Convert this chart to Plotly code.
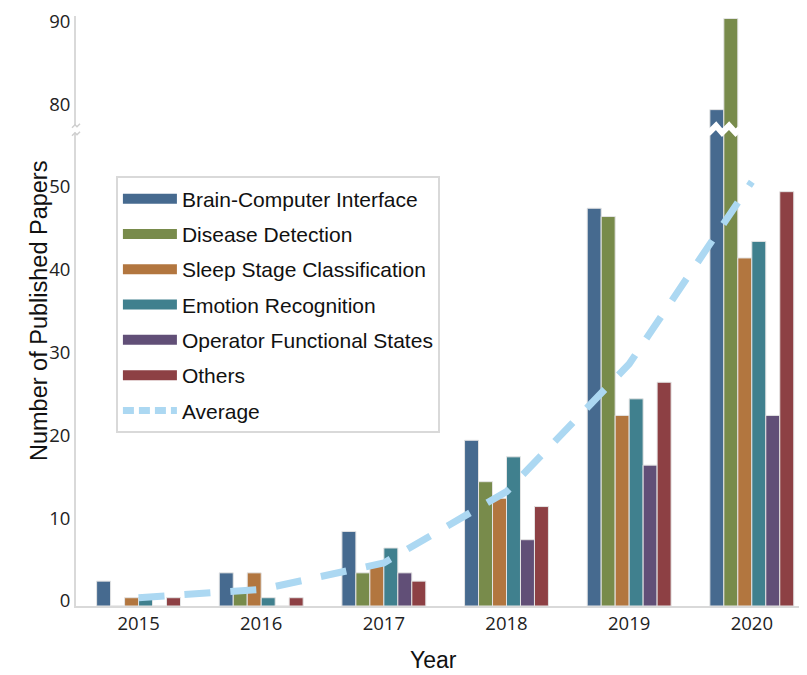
import plotly.graph_objects as go

# ---------------- data ----------------
years = ["2015", "2016", "2017", "2018", "2019", "2020"]
bci = [3, 4, 9, 20, 48, 80]
disease = [0, 2, 4, 15, 47, 91]
sleep = [1, 4, 5, 13, 23, 42]
emotion = [1, 1, 7, 18, 25, 44]
ofs = [0, 0, 4, 8, 17, 23]
others = [1, 1, 3, 12, 27, 50]
average = [1.0, 2.0, 5.2, 13.8, 29.2, 51.2]

series_names = ["Brain-Computer Interface", "Disease Detection", "Sleep Stage Classification",
                "Emotion Recognition", "Operator Functional States", "Others"]
series_values = [bci, disease, sleep, emotion, ofs, others]
series_colors = ["#466a8f", "#788b4b", "#b2763f", "#40808e", "#614f77", "#8d4044"]
avg_color = "#acd8f2"

low_ticks = [0, 10, 20, 30, 40, 50]
high_ticks = [80, 90]

# ---------------- layout constants ----------------
BREAK = 0.809
LOW_RANGE = [0, 57.6]
HIGH_RANGE = [77.7, 91.3]
AXIS_COLOR = "#d9d9d9"
TICK_FONT = dict(family="Open Sans", size=18.5, color="#222222")
TEXT_FONT = "Liberation Sans, Arial, sans-serif"

xs = list(range(len(years)))

fig = go.Figure()
# legend entries (wide swatches like the reference)
for name, col in zip(series_names, series_colors):
    fig.add_trace(go.Scatter(x=[None], y=[None], mode="lines", name=name, legendgroup=name,
                             line=dict(color=col, width=10), hoverinfo="skip",
                             xaxis="x", yaxis="y"))
fig.add_trace(go.Scatter(x=[None], y=[None], mode="lines", name="Average", legendgroup="Average",
                         line=dict(color=avg_color, width=7, dash="11px,5px"), hoverinfo="skip",
                         xaxis="x", yaxis="y"))

# bars, lower part of the broken axis
for name, vals, col in zip(series_names, series_values, series_colors):
    fig.add_trace(go.Bar(x=xs, y=vals, name=name, legendgroup=name, showlegend=False,
                         marker=dict(color=col, line=dict(color="#e4e4e4", width=1)),
                         xaxis="x", yaxis="y"))
# average line
fig.add_trace(go.Scatter(x=xs, y=average, mode="lines", name="Average", legendgroup="Average",
                         showlegend=False,
                         line=dict(color=avg_color, width=7, dash="26px,20px"),
                         xaxis="x", yaxis="y"))
# bars, upper part of the broken axis
for name, vals, col in zip(series_names, series_values, series_colors):
    fig.add_trace(go.Bar(x=xs, y=vals, name=name, legendgroup=name, showlegend=False,
                         marker=dict(color=col, line=dict(color="#e4e4e4", width=1)),
                         xaxis="x", yaxis="y2"))

fig.update_layout(
    width=799, height=667,
    margin=dict(l=68, r=0, t=6, b=69),
    plot_bgcolor="white", paper_bgcolor="white",
    barmode="group", bargap=0.316, bargroupgap=0,
    xaxis=dict(range=[-0.51, 5.45], tickmode="array", tickvals=xs, ticktext=years,
               showline=True, linecolor=AXIS_COLOR, linewidth=2, showgrid=False,
               zeroline=False, ticks="", tickfont=TICK_FONT, anchor="y"),
    yaxis=dict(domain=[0, BREAK], range=LOW_RANGE, tickmode="array", tickvals=low_ticks,
               showline=True, linecolor=AXIS_COLOR, linewidth=2, showgrid=False,
               zeroline=False, ticks="", tickfont=TICK_FONT, ticklabelshift=-5,
               ticklabeloverflow="allow", anchor="x"),
    yaxis2=dict(domain=[BREAK, 1], range=HIGH_RANGE, tickmode="array", tickvals=high_ticks,
                showline=True, linecolor=AXIS_COLOR, linewidth=2, showgrid=False,
                zeroline=False, ticks="", tickfont=TICK_FONT, ticklabelshift=-5,
                ticklabeloverflow="allow", anchor="x"),
    legend=dict(x=0.0546, y=0.728, xanchor="left", yanchor="top",
                bordercolor=AXIS_COLOR, borderwidth=2, bgcolor="white",
                font=dict(family=TEXT_FONT, size=21, color="#111111"),
                itemwidth=54, tracegroupgap=5, traceorder="grouped"),
    showlegend=True,
)

# axis titles
fig.add_annotation(text="Number of Published Papers", xref="paper", yref="paper",
                   x=0, y=0.5, xshift=-52, textangle=-90, showarrow=False,
                   font=dict(family=TEXT_FONT, size=23.5, color="#111111"))
fig.add_annotation(text="Year", xref="paper", yref="paper", x=0.489, y=0, yshift=-54,
                   yanchor="middle", showarrow=False,
                   font=dict(family=TEXT_FONT, size=23, color="#111111"))

# broken-axis decoration: white zigzag across the 2020 bars that cross the break
fig.add_shape(type="path", xref="x", yref="paper", xsizemode="pixel", ysizemode="pixel",
              xanchor=xs[-1], yanchor=BREAK,
              path="M-46,-5 L-42.7,-4 L-35.7,3 L-29.7,-4 L-22.7,3 L-16.2,-4 L-12,0",
              line=dict(color="white", width=6), layer="above")
# break on the y axis
fig.add_shape(type="rect", xref="paper", yref="paper", xsizemode="pixel", ysizemode="pixel",
              xanchor=0, yanchor=BREAK, x0=-3, x1=3, y0=-4, y1=3,
              fillcolor="white", line=dict(width=0), layer="above")
for dy in (0, -8):
    fig.add_shape(type="path", xref="paper", yref="paper", xsizemode="pixel", ysizemode="pixel",
                  xanchor=0, yanchor=BREAK,
                  path=f"M-4,{1+dy} L-1,{4+dy} L1,{2+dy} L4,{5+dy}",
                  line=dict(color="#cfcfcf", width=1.5), layer="above")

fig.write_html("out.html")
